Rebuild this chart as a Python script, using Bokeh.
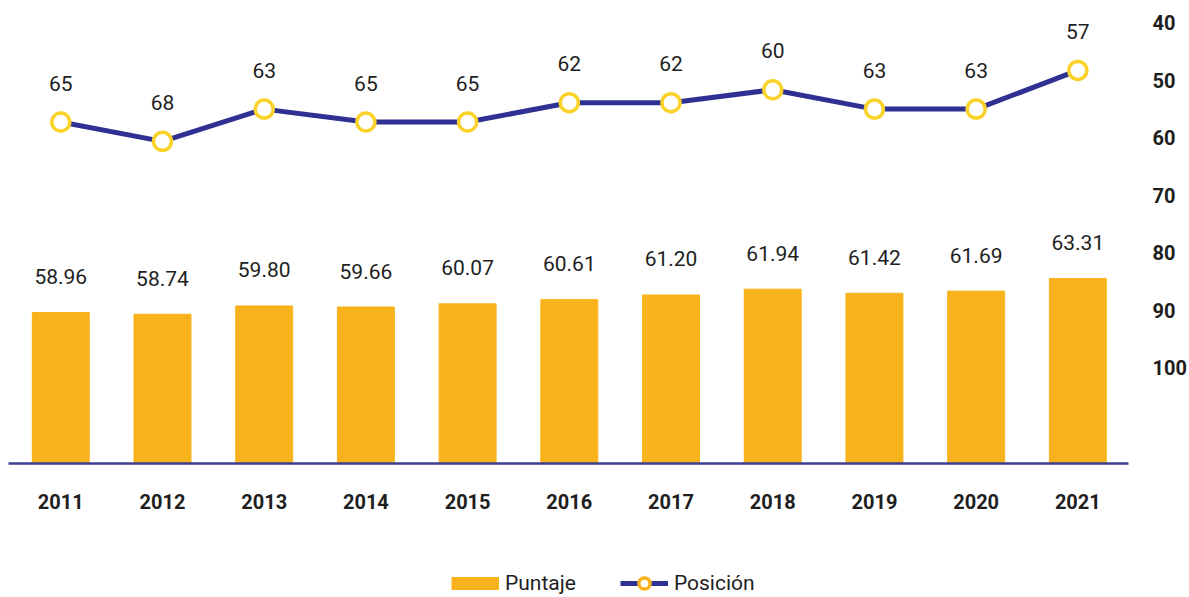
from bokeh.plotting import figure
from bokeh.layouts import column
from bokeh.models import Range1d, LinearAxis, FixedTicker, Legend, LegendItem
from bokeh.core.properties import value
from bokeh.embed import file_html
from bokeh.resources import INLINE

# ---- data ----
years = [2011, 2012, 2013, 2014, 2015, 2016, 2017, 2018, 2019, 2020, 2021]
year_labels = ["2011", "2012", "2013", "2014", "2015", "2016", "2017", "2018", "2019", "2020", "2021"]
puntaje = [58.96, 58.74, 59.80, 59.66, 60.07, 60.61, 61.20, 61.94, 61.42, 61.69, 63.31]
posicion = [65, 68, 63, 65, 65, 62, 62, 60, 63, 63, 57]
pos_axis_ticks = [40, 50, 60, 70, 80, 90, 100]
series_names = ["Puntaje", "Posición"]

BAR = "#F8B31C"
NAVY = "#2E3192"
RING = "#FAD22A"
TEXT = "#1E1E1E"
FONT = "Roboto"

p = figure(width=1189, height=555, output_backend="svg", toolbar_location=None,
           x_range=Range1d(2010.486, 2021.498), y_range=Range1d(39.65, 98.86),
           y_axis_location=None, min_border_left=8, min_border_top=0,
           min_border_right=60, min_border_bottom=92)
p.extra_y_ranges = {"pos": Range1d(117.94, 46.16), "scale": Range1d(116.61, 36.09)}
p.grid.visible = False
p.outline_line_color = None
p.background_fill_color = "white"
p.border_fill_color = "white"

bars = p.vbar(x=years, top=puntaje, bottom=p.y_range.start, width=0.56, color=BAR)
line = p.line(years, posicion, y_range_name="pos", line_color=NAVY, line_width=5)
p.scatter(years, posicion, y_range_name="pos", size=18, fill_color="white",
          line_color=RING, line_width=3.5)

p.text(x=years, y=puntaje, text=[f"{v:.2f}" for v in puntaje], y_offset=-36,
       text_align="center", text_baseline="middle", text_font=value(FONT),
       text_font_size="21px", text_color=TEXT)
p.text(x=years, y=posicion, text=[str(v) for v in posicion], y_range_name="pos",
       y_offset=-39, text_align="center", text_baseline="middle",
       text_font=value(FONT), text_font_size="21px", text_color=TEXT)

xa = p.xaxis[0]
xa.ticker = FixedTicker(ticks=years)
xa.major_label_overrides = dict(zip(years, year_labels))
xa.axis_line_color = "#3C3E92"
xa.axis_line_width = 2.5
xa.major_tick_line_color = None
xa.minor_tick_line_color = None
xa.major_tick_out = 0
xa.major_tick_in = 0
xa.minor_tick_out = 0
xa.major_label_standoff = 30
xa.major_label_text_font = FONT
xa.major_label_text_font_style = "bold"
xa.major_label_text_font_size = "20px"
xa.major_label_text_color = TEXT

ra = LinearAxis(y_range_name="scale", ticker=FixedTicker(ticks=pos_axis_ticks),
                axis_line_color=None, major_tick_line_color=None,
                minor_tick_line_color=None, major_tick_out=0, major_tick_in=0,
                minor_tick_out=0, major_label_standoff=24,
                major_label_text_font=FONT, major_label_text_font_style="bold",
                major_label_text_font_size="20px", major_label_text_color=TEXT)
p.add_layout(ra, "right")

# ---- legend strip (swatch renderers sit outside the strip's visible range) ----
lp = figure(width=1189, height=42, output_backend="svg", toolbar_location=None,
            x_range=Range1d(0, 1), y_range=Range1d(0, 1),
            x_axis_location=None, y_axis_location=None,
            min_border_left=0, min_border_right=0, min_border_top=0, min_border_bottom=0)
lp.grid.visible = False
lp.outline_line_color = None
off = [5, 6]
sw_bar = lp.line(x=off, y=off, line_color=BAR, line_width=13, line_cap="butt")
sw_line = lp.line(x=off, y=off, line_color=NAVY, line_width=5)
sw_mark = lp.scatter(x=off, y=off, fill_color="white", line_color=BAR, line_width=3.5)

leg = Legend(items=[LegendItem(label=series_names[0], renderers=[sw_bar]),
                    LegendItem(label=series_names[1], renderers=[sw_line, sw_mark])],
             location=(443, 0), orientation="horizontal", glyph_width=48,
             glyph_height=28, label_standoff=6, spacing=44, padding=0, margin=0,
             border_line_color=None, background_fill_alpha=0, label_text_font=FONT,
             label_text_font_size="21px", label_text_color=TEXT)
lp.add_layout(leg)

open("out.html", "w").write(file_html(column(p, lp, spacing=0), INLINE))
